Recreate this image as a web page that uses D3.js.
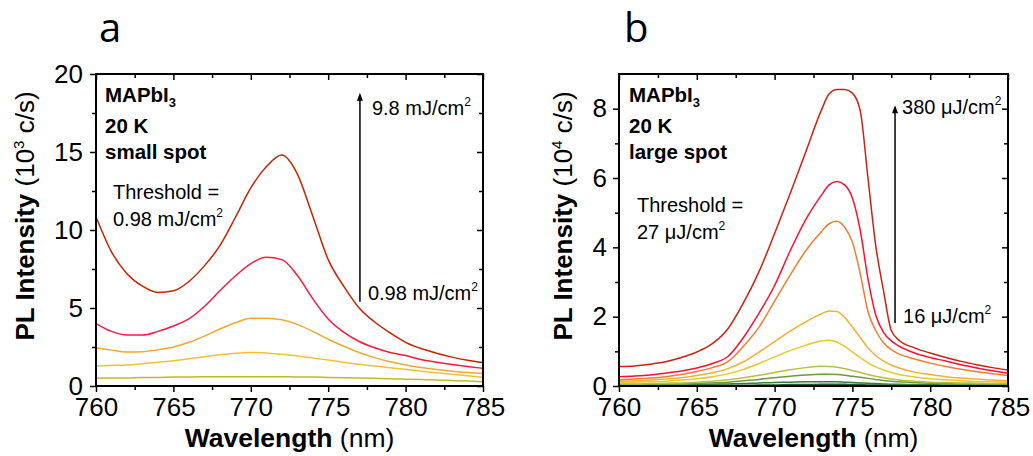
<!DOCTYPE html>
<html>
<head>
<meta charset="utf-8">
<script src="https://cdn.jsdelivr.net/npm/d3@7"></script>
<style>
  body { margin: 0; background: #fff; }
  svg { display: block; }
  text { font-family: Arial, "Liberation Sans", Helvetica, sans-serif; fill: #000; }
</style>
</head>
<body>
<div id="chart"></div>
<script>
// panel a: small spot, 5 fluences
var wavelengthA = [760,761,762,763,764,765,766,767,768,769,770,771,772,773,774,775,776,777,778,779,780,781,782,783,784,785];
var smallSpot1 = [10.85,8.6,7.2,6.4,6.0,6.1,6.7,7.7,9.0,10.8,12.7,14.05,14.8,13.6,10.9,8.1,6.4,5.0,4.1,3.4,2.8,2.4,2.1,1.85,1.65,1.5];
var smallSpot2 = [4.0,3.5,3.27,3.27,3.5,3.85,4.3,5.1,6.1,7.05,7.85,8.25,8.1,7.1,5.6,4.3,3.45,2.85,2.45,2.15,1.95,1.7,1.52,1.38,1.25,1.13];
var smallSpot3 = [2.45,2.3,2.18,2.2,2.32,2.5,2.8,3.2,3.65,4.05,4.35,4.35,4.25,3.95,3.5,3.0,2.55,2.15,1.82,1.55,1.35,1.18,1.05,0.95,0.87,0.8];
var smallSpot4 = [1.3,1.32,1.35,1.42,1.52,1.62,1.75,1.88,2.0,2.1,2.15,2.12,2.03,1.93,1.8,1.66,1.52,1.39,1.28,1.17,1.07,0.95,0.85,0.75,0.66,0.56];
var smallSpot5 = [0.5,0.51,0.52,0.54,0.55,0.57,0.58,0.59,0.6,0.6,0.6,0.6,0.59,0.58,0.57,0.55,0.53,0.51,0.49,0.47,0.44,0.41,0.38,0.35,0.32,0.28];
var colorsA = ["#cc2200", "#ff1840", "#f5a830", "#f2c232", "#c2b82c"];

// panel b: large spot, 9 fluences
var wavelengthB = [760,761,762,763,764,765,766,767,768,769,770,771,772,773,773.5,774,774.5,775,775.5,776,776.5,777,777.5,778,779,780,781,782,783,784,785];
var largeSpot1 = [0.56,0.58,0.63,0.70,0.82,0.98,1.22,1.65,2.4,3.3,4.4,5.55,6.75,7.95,8.42,8.55,8.55,8.45,7.95,6.0,4.05,2.75,1.6,1.32,1.1,0.95,0.82,0.71,0.61,0.53,0.46];
var largeSpot2 = [0.27,0.29,0.32,0.37,0.43,0.52,0.65,0.85,1.4,2.1,2.9,3.9,4.8,5.5,5.8,5.9,5.8,5.42,4.5,3.1,2.05,1.55,1.3,1.15,0.95,0.82,0.72,0.61,0.52,0.44,0.37];
var largeSpot3 = [0.18,0.2,0.23,0.27,0.33,0.42,0.53,0.7,1.15,1.7,2.45,3.2,3.9,4.45,4.68,4.75,4.58,4.15,3.25,2.15,1.6,1.25,1.05,0.92,0.78,0.66,0.56,0.48,0.41,0.35,0.3];
var largeSpot4 = [0.14,0.15,0.17,0.2,0.24,0.3,0.38,0.5,0.7,0.98,1.28,1.58,1.85,2.08,2.16,2.15,1.98,1.7,1.4,1.1,0.88,0.72,0.6,0.52,0.4,0.33,0.27,0.23,0.2,0.17,0.15];
var largeSpot5 = [0.1,0.11,0.12,0.14,0.17,0.21,0.27,0.35,0.48,0.65,0.84,1.02,1.18,1.3,1.32,1.27,1.14,0.98,0.82,0.67,0.55,0.46,0.39,0.33,0.26,0.21,0.18,0.15,0.13,0.12,0.11];
var largeSpot6 = [0.06,0.06,0.07,0.08,0.09,0.11,0.14,0.18,0.24,0.31,0.39,0.47,0.53,0.57,0.56,0.54,0.5,0.45,0.39,0.33,0.28,0.24,0.2,0.17,0.14,0.11,0.1,0.09,0.08,0.07,0.07];
var largeSpot7 = [0.04,0.04,0.05,0.05,0.06,0.07,0.09,0.11,0.15,0.19,0.24,0.28,0.32,0.34,0.34,0.33,0.31,0.28,0.25,0.22,0.19,0.16,0.14,0.12,0.1,0.08,0.07,0.06,0.06,0.05,0.05];
var largeSpot8 = [0.02,0.02,0.02,0.03,0.03,0.04,0.05,0.06,0.07,0.09,0.1,0.11,0.12,0.12,0.12,0.12,0.11,0.1,0.09,0.08,0.07,0.06,0.05,0.05,0.04,0.04,0.03,0.03,0.03,0.03,0.03];
var largeSpot9 = [0.01,0.01,0.01,0.01,0.01,0.01,0.02,0.02,0.02,0.03,0.03,0.04,0.04,0.05,0.05,0.05,0.05,0.04,0.04,0.03,0.03,0.03,0.02,0.02,0.02,0.02,0.01,0.01,0.01,0.01,0.01];
var colorsB = ["#d0200f", "#ff1030", "#f47c30", "#f5b030", "#e8c82c", "#b5c040", "#6e9a3a", "#3a7a3a", "#1e5a2a"];

var xTicks = [760, 765, 770, 775, 780, 785];
var yTicksA = [0, 5, 10, 15, 20];
var yTicksB = [0, 2, 4, 6, 8];

var svg = d3.select("#chart").append("svg")
    .attr("width", 1033)
    .attr("height", 456);

function drawPanel(opts) {
    var x = d3.scaleLinear().domain([760, 785]).range([opts.left, opts.right]);
    var y = d3.scaleLinear().domain([0, opts.yMax]).range([386, 74]);
    var g = svg.append("g");

    var minorX = d3.range(762.5, 785, 5);
    var minorY = opts.yMinor;

    // spectra
    var line = d3.line()
        .x(function (d) { return x(d[0]); })
        .y(function (d) { return y(d[1]); })
        .curve(d3.curveMonotoneX);

    // draw weakest first so the strong curves sit on top
    for (var i = opts.series.length - 1; i >= 0; i--) {
        var pts = opts.wl.map(function (w, j) { return [w, opts.series[i][j]]; });
        g.append("path")
            .datum(pts)
            .attr("d", line)
            .attr("fill", "none")
            .attr("stroke", opts.colors[i])
            .attr("stroke-width", 1.5);
    }

    // bottom / left axes, ticks outward
    g.append("g").attr("transform", "translate(0,386)")
        .call(d3.axisBottom(x).tickValues(xTicks).tickSize(6).tickPadding(6).tickFormat(d3.format("d")));
    g.append("g").attr("transform", "translate(0,386)")
        .call(d3.axisBottom(x).tickValues(minorX).tickSize(4).tickFormat(""));
    g.append("g").attr("transform", "translate(" + opts.left + ",0)")
        .call(d3.axisLeft(y).tickValues(opts.yTicks).tickSize(6).tickPadding(opts.yPad).tickFormat(d3.format("d")));
    g.append("g").attr("transform", "translate(" + opts.left + ",0)")
        .call(d3.axisLeft(y).tickValues(minorY).tickSize(4).tickFormat(""));

    // mirror ticks on top / right, pointing inward
    g.append("g").attr("transform", "translate(0,74)")
        .call(d3.axisBottom(x).tickValues(xTicks).tickSize(6).tickFormat(""));
    g.append("g").attr("transform", "translate(0,74)")
        .call(d3.axisBottom(x).tickValues(minorX).tickSize(4).tickFormat(""));
    g.append("g").attr("transform", "translate(" + opts.right + ",0)")
        .call(d3.axisLeft(y).tickValues(opts.yTicks).tickFormat(""))
        .selectAll("line").attr("x2", -6);
    g.append("g").attr("transform", "translate(" + opts.right + ",0)")
        .call(d3.axisLeft(y).tickValues(minorY).tickFormat(""))
        .selectAll("line").attr("x2", -4);

    g.selectAll(".domain").remove();
    g.selectAll(".tick line").attr("stroke", "#000").attr("stroke-width", 1.5);
    g.selectAll(".tick text")
        .style("font-family", "Arial, 'Liberation Sans', Helvetica, sans-serif")
        .style("font-size", "26px")
        .attr("fill", "#000");

    // frame
    g.append("rect")
        .attr("x", opts.left).attr("y", 74)
        .attr("width", opts.right - opts.left).attr("height", 312)
        .attr("fill", "none").attr("stroke", "#000").attr("stroke-width", 2);

    // axis titles
    var xt = g.append("text")
        .attr("x", (opts.left + opts.right) / 2).attr("y", 447)
        .attr("text-anchor", "middle").style("font-size", "26.5px");
    xt.append("tspan").attr("font-weight", "bold").text("Wavelength");
    xt.append("tspan").text(" (nm)");

    var yt = g.append("text")
        .attr("transform", "translate(" + opts.titleX + ",216) rotate(-90)")
        .attr("text-anchor", "middle").style("font-size", "26px");
    yt.append("tspan").attr("font-weight", "bold").text("PL Intensity");
    yt.append("tspan").text(" (10");
    yt.append("tspan").attr("dy", -10).style("font-size", "15px").text(opts.power);
    yt.append("tspan").attr("dy", 10).text(" c/s)");

    // panel letter
    g.append("text")
        .attr("x", opts.letterX).attr("y", 42)
        .style("font-family", "'Open Sans', sans-serif")
        .style("font-size", "40px")
        .text(opts.letter);

    // sample info
    var info = g.append("g").attr("font-weight", "bold").style("font-size", "20.5px");
    var t1 = info.append("text").attr("x", opts.infoX).attr("y", 102);
    t1.append("tspan").text("MAPbI");
    t1.append("tspan").attr("dy", 5).style("font-size", "13px").text("3");
    info.append("text").attr("x", opts.infoX).attr("y", 133).text("20 K");
    info.append("text").attr("x", opts.infoX).attr("y", 159).text(opts.spot);

    // threshold note
    g.append("text").attr("x", opts.thrX).attr("y", opts.thrY)
        .style("font-size", "20px").text("Threshold =");
    supText(g, opts.thrX, opts.thrY + 27, opts.thrValue);

    // fluence arrow
    var ax = x(opts.arrowWl);
    g.append("line")
        .attr("x1", ax).attr("x2", ax)
        .attr("y1", y(opts.arrowFrom)).attr("y2", y(opts.arrowTo) + 6)
        .attr("stroke", "#000").attr("stroke-width", 1.5);
    g.append("path")
        .attr("d", "M" + (ax - 3) + "," + (y(opts.arrowTo) + 8) + " L" + ax + "," + y(opts.arrowTo) +
            " L" + (ax + 3) + "," + (y(opts.arrowTo) + 8) + "Z")
        .attr("fill", "#000");
    supText(g, ax + opts.hiDx, opts.hiY, opts.hiLabel);
    supText(g, ax + opts.loDx, opts.loY, opts.loLabel);
}

// "value unit" followed by a superscript 2
function supText(g, x, y, label) {
    var t = g.append("text").attr("x", x).attr("y", y).style("font-size", "20px");
    t.append("tspan").text(label);
    t.append("tspan").attr("dy", -9).style("font-size", "12px").text("2");
}

drawPanel({
    left: 96, right: 483, yMax: 20,
    yTicks: yTicksA, yMinor: [2.5, 7.5, 12.5, 17.5], yPad: 7,
    wl: wavelengthA,
    series: [smallSpot1, smallSpot2, smallSpot3, smallSpot4, smallSpot5],
    colors: colorsA,
    titleX: 34, power: "3",
    letter: "a", letterX: 99,
    infoX: 105, spot: "small spot",
    thrX: 113, thrY: 199, thrValue: "0.98 mJ/cm",
    arrowWl: 777.05, arrowFrom: 5.4, arrowTo: 18.8,
    hiDx: 12, hiY: 115, hiLabel: "9.8 mJ/cm",
    loDx: 8, loY: 300, loLabel: "0.98 mJ/cm"
});

drawPanel({
    left: 619, right: 1008, yMax: 9,
    yTicks: yTicksB, yMinor: [1, 3, 5, 7], yPad: 6,
    wl: wavelengthB,
    series: [largeSpot1, largeSpot2, largeSpot3, largeSpot4, largeSpot5, largeSpot6, largeSpot7, largeSpot8, largeSpot9],
    colors: colorsB,
    titleX: 572, power: "4",
    letter: "b", letterX: 624,
    infoX: 629, spot: "large spot",
    thrX: 637, thrY: 212, thrValue: "27 \u03bcJ/cm",
    arrowWl: 777.74, arrowFrom: 1.82, arrowTo: 8.1,
    hiDx: 7, hiY: 114, hiLabel: "380 \u03bcJ/cm",
    loDx: 8, loY: 323, loLabel: "16 \u03bcJ/cm"
});
</script>
</body>
</html>
